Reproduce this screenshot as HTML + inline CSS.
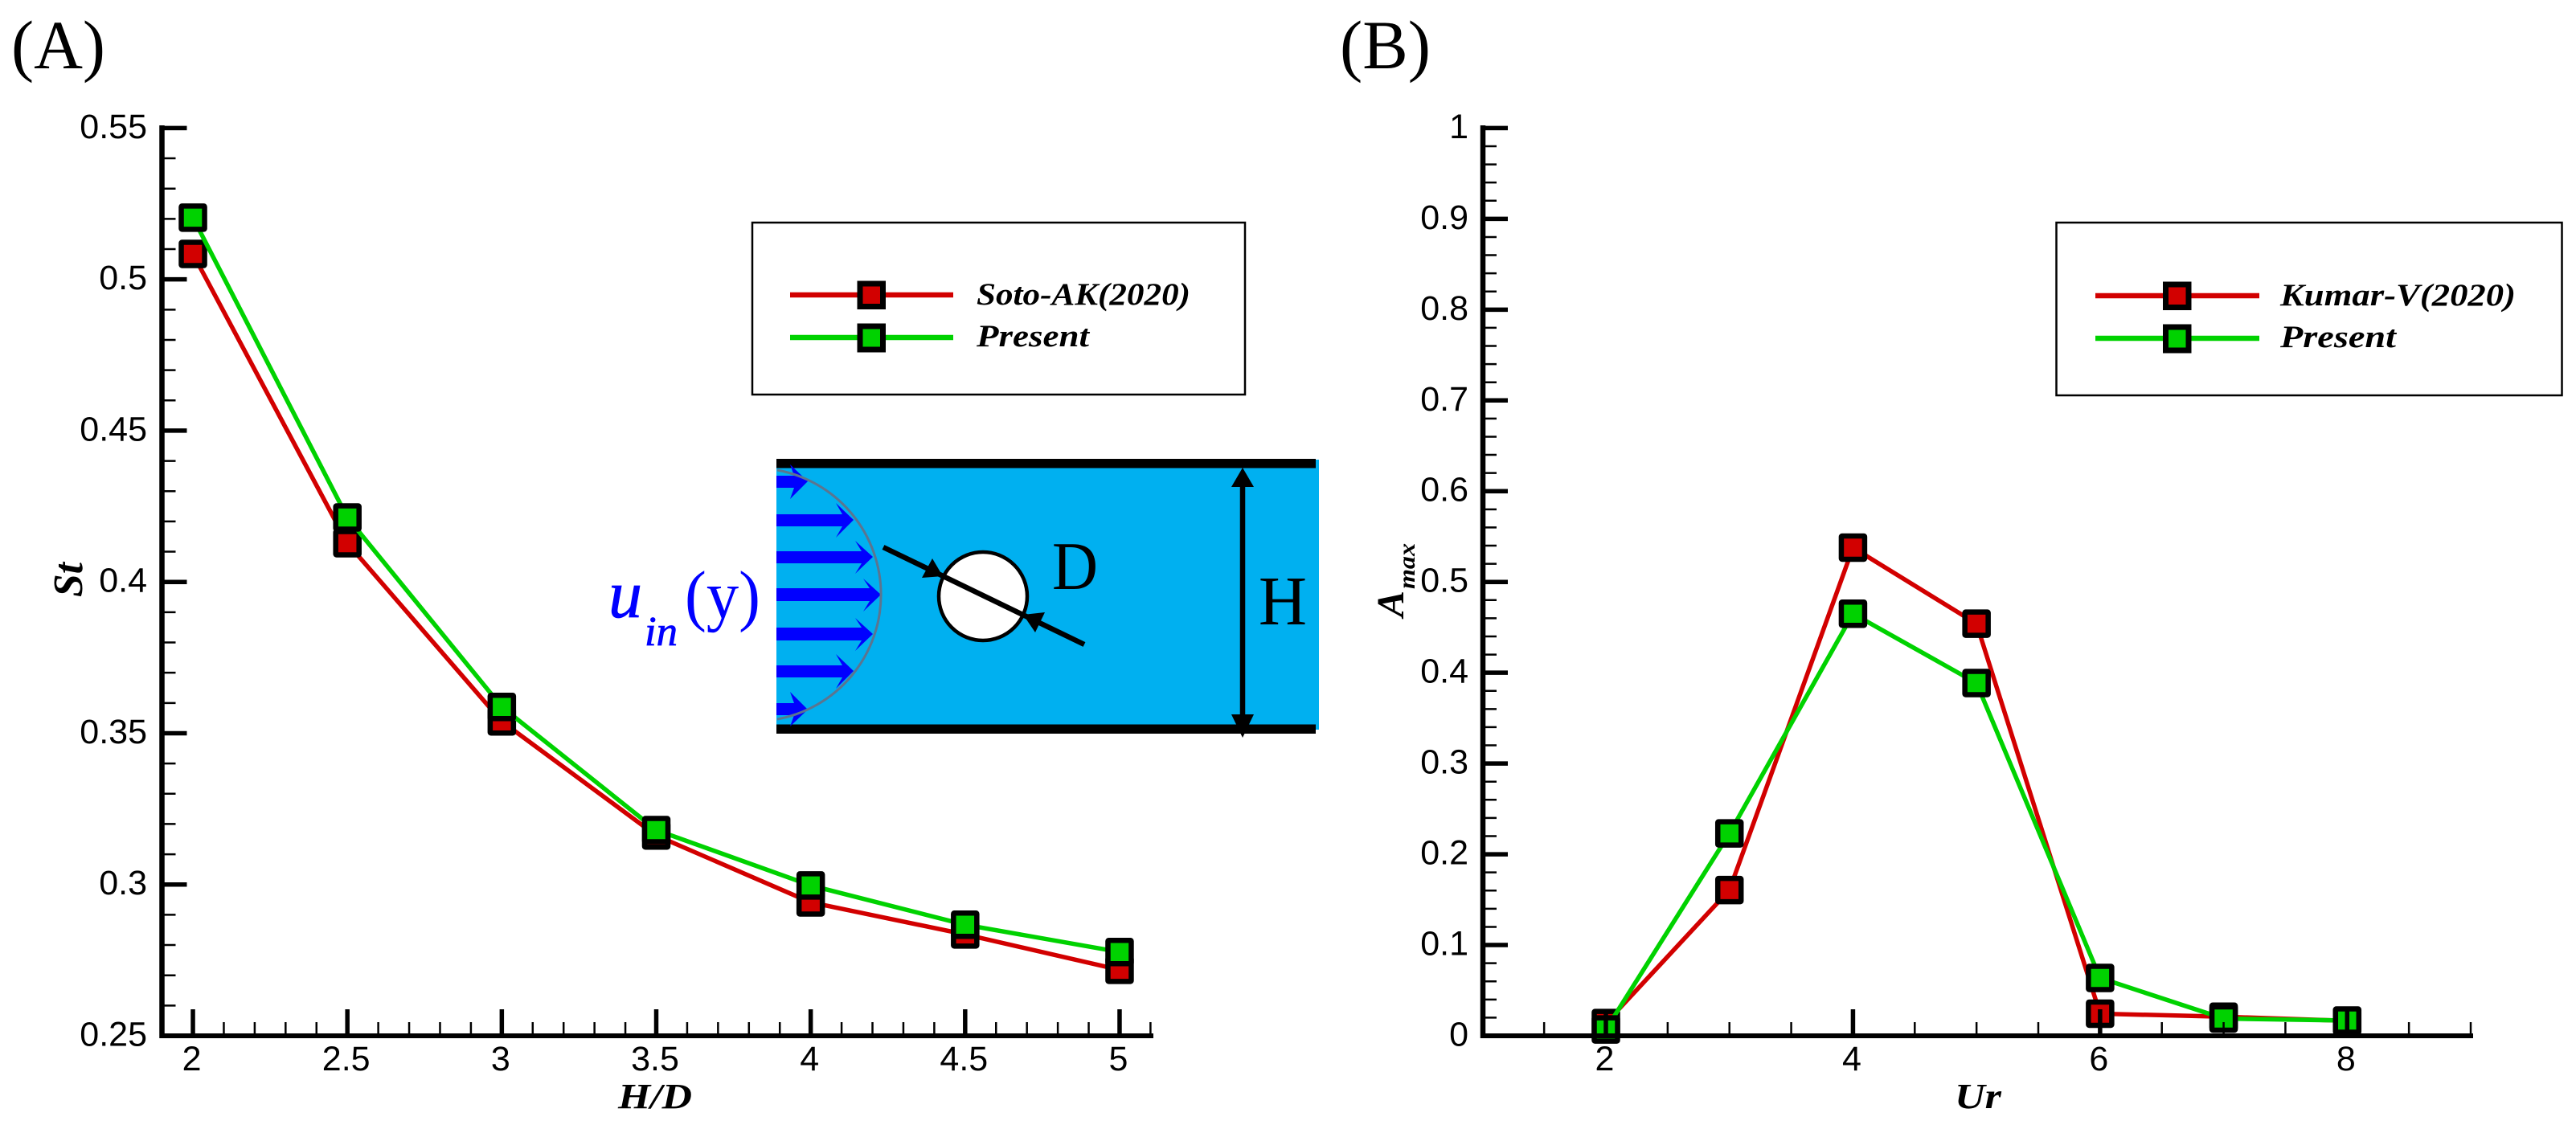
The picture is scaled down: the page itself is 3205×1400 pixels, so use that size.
<!DOCTYPE html>
<html lang="en">
<head>
<meta charset="utf-8">
<title>St vs H/D and Amax vs Ur</title>
<style>
html,body{margin:0;padding:0;background:#fff;}
svg{display:block;}
text{fill:#000;}
.sans{font-family:"Liberation Sans",Arial,sans-serif;}
.serif{font-family:"Liberation Serif","Times New Roman",serif;}
.bi{font-family:"Liberation Serif","Times New Roman",serif;font-weight:bold;font-style:italic;}
</style>
</head>
<body>
<svg id="figure" xmlns="http://www.w3.org/2000/svg" width="3205" height="1400" viewBox="0 0 3205 1400">
  <rect x="0" y="0" width="3205" height="1400" fill="#fff"/>
  <text class="serif" x="14" y="85" font-size="86" textLength="117" lengthAdjust="spacingAndGlyphs">(A)</text>
  <text class="serif" x="1667" y="85" font-size="86" textLength="113" lengthAdjust="spacingAndGlyphs">(B)</text>

  <g id="plot-a"></g>
  <g id="plot-b"></g>

  <text class="bi" x="769" y="1379" font-size="44" textLength="92" lengthAdjust="spacingAndGlyphs">H/D</text>
  <text class="bi" transform="translate(102,743) rotate(-90)" font-size="52" textLength="43" lengthAdjust="spacingAndGlyphs">St</text>
  <text class="bi" x="2432" y="1379" font-size="44" textLength="58" lengthAdjust="spacingAndGlyphs">Ur</text>
  <g>
    <text class="bi" transform="translate(1746,768) rotate(-90)" font-size="48" textLength="33" lengthAdjust="spacingAndGlyphs">A</text>
    <text class="bi" transform="translate(1760,733) rotate(-90)" font-size="30" textLength="57" lengthAdjust="spacingAndGlyphs">max</text>
  </g>

  <g>
    <rect x="936" y="277" width="613" height="214" fill="#fff" stroke="#000" stroke-width="2.5"/>
    <g>
      <line x1="983" y1="367" x2="1186" y2="367" stroke="#d20000" stroke-width="6.5"/>
      <rect x="1070" y="353" width="28.5" height="28.5" fill="#d20000" stroke="#000" stroke-width="7"/>
      <text class="bi" x="1215" y="379" font-size="39" textLength="266" lengthAdjust="spacingAndGlyphs">Soto-AK(2020)</text>
    </g>
    <g>
      <line x1="983" y1="420" x2="1186" y2="420" stroke="#00d200" stroke-width="6.5"/>
      <rect x="1070" y="406" width="28.5" height="29" fill="#00d200" stroke="#000" stroke-width="7"/>
      <text class="bi" x="1215" y="431" font-size="39" textLength="140" lengthAdjust="spacingAndGlyphs">Present</text>
    </g>
  </g>

  <g>
    <rect x="2558.5" y="277" width="629" height="215" fill="#fff" stroke="#000" stroke-width="2.5"/>
    <g>
      <line x1="2607" y1="368" x2="2811" y2="368" stroke="#d20000" stroke-width="6.5"/>
      <rect x="2694.5" y="354" width="28.5" height="28.5" fill="#d20000" stroke="#000" stroke-width="7"/>
      <text class="bi" x="2837" y="380" font-size="39" textLength="293" lengthAdjust="spacingAndGlyphs">Kumar-V(2020)</text>
    </g>
    <g>
      <line x1="2607" y1="421" x2="2811" y2="421" stroke="#00d200" stroke-width="6.5"/>
      <rect x="2694.5" y="407" width="28.5" height="29" fill="#00d200" stroke="#000" stroke-width="7"/>
      <text class="bi" x="2837" y="432" font-size="39" textLength="144" lengthAdjust="spacingAndGlyphs">Present</text>
    </g>
  </g>

  <g>
    <rect x="966" y="572" width="675" height="336" fill="#00b0f0"/>
    <rect x="966" y="571" width="671" height="11.5" fill="#000"/>
    <rect x="966" y="901.5" width="671" height="11.5" fill="#000"/>
    <g fill="#0000ff">
      <polygon points="966,592 988,592 983,578 1005,599 983,621 988,607 966,607"/>
      <polygon points="966,640 1048,640 1040,626 1062,647 1040,669 1048,655 966,655"/>
      <polygon points="966,686 1072,686 1064,673 1086,693 1064,714 1072,701 966,701"/>
      <polygon points="966,732 1082,732 1074,720 1096,740 1074,761 1082,748 966,748"/>
      <polygon points="966,781 1072,781 1064,769 1086,789 1064,810 1072,797 966,797"/>
      <polygon points="966,828 1048,828 1040,814 1062,835 1040,857 1048,843 966,843"/>
      <polygon points="966,875 988,875 983,861 1005,883 983,904 988,890 966,890"/>
    </g>
    <path d="M967,585 A157.6,157.6 0 0 1 967,895" fill="none" stroke="#5b7590" stroke-width="3"/>
    <circle cx="1223" cy="742" r="55" fill="#fff" stroke="#000" stroke-width="4.5"/>
    <line x1="1099" y1="681" x2="1349" y2="802" stroke="#000" stroke-width="6.5"/>
    <polygon points="1173,717 1160,695 1147,719" fill="#000"/>
    <polygon points="1273,765 1300,762 1288,787" fill="#000"/>
    <line x1="1546" y1="590" x2="1546" y2="905" stroke="#000" stroke-width="6.5"/>
    <polygon points="1546,582 1532,606 1560,606" fill="#000"/>
    <polygon points="1546,918 1532,889 1560,889" fill="#000"/>
    <text class="serif" x="1309" y="733" font-size="85" textLength="57" lengthAdjust="spacingAndGlyphs">D</text>
    <text class="serif" x="1566" y="777" font-size="87" textLength="60" lengthAdjust="spacingAndGlyphs">H</text>
  </g>
  <g>
    <text class="serif" x="757" y="768" font-size="85" font-style="italic" style="fill:#0000ff;stroke:#0000ff;stroke-width:.8" textLength="42" lengthAdjust="spacingAndGlyphs">u</text>
    <text class="serif" x="802" y="803" font-size="52" font-style="italic" style="fill:#0000ff;stroke:#0000ff;stroke-width:.8" textLength="41" lengthAdjust="spacingAndGlyphs">in</text>
    <text class="serif" x="852" y="769" font-size="85" style="fill:#0000ff" textLength="94" lengthAdjust="spacingAndGlyphs">(y)</text>
  </g>
</svg>
<script>
/* Panel A data */
const categoriesA = [2, 2.5, 3, 3.5, 4, 4.5, 5];
const sotoAK = [0.5084, 0.4128, 0.3539, 0.3162, 0.2941, 0.2835, 0.2718];
const presentA = [0.5204, 0.4213, 0.3587, 0.318, 0.2997, 0.2867, 0.2777];
const xTickLabelsA = ['2', '2.5', '3', '3.5', '4', '4.5', '5'];
const yTickLabelsA = ['0.25', '0.3', '0.35', '0.4', '0.45', '0.5', '0.55'];

/* Panel B data */
const categoriesB = [2, 3, 4, 5, 6, 7, 8];
const kumarV = [0.014, 0.1606, 0.5378, 0.454, 0.0244, 0.021, 0.0165];
const presentB = [0.007, 0.223, 0.465, 0.3886, 0.0637, 0.019, 0.0168];
const xTickLabelsB = ['2', '4', '6', '8'];
const yTickLabelsB = ['0', '0.1', '0.2', '0.3', '0.4', '0.5', '0.6', '0.7', '0.8', '0.9', '1'];

const NS = 'http://www.w3.org/2000/svg';
const RED = '#d20000';
const GREEN = '#00d200';

function make(parent, tag) {
  const el = document.createElementNS(NS, tag);
  parent.appendChild(el);
  return el;
}

function linearScale(d0, d1, r0, r1) {
  return function (v) { return r0 + (v - d0) * (r1 - r0) / (d1 - d0); };
}

function drawSeries(root, xs, ys, sx, sy, color, seriesName) {
  const line = make(root, 'polyline');
  
  
  line.setAttribute('points', xs.map(function (x, i) { return sx(x) + ',' + sy(ys[i]); }).join(' '));
  line.setAttribute('fill', 'none');
  line.setAttribute('stroke', color);
  line.setAttribute('stroke-width', '5.5');
  xs.forEach(function (x, i) {
    const m = make(root, 'rect');
    
    
    m.setAttribute('x', sx(x) - 14.5);
    m.setAttribute('y', sy(ys[i]) - 14.5);
    m.setAttribute('width', '29');
    m.setAttribute('height', '29');
    m.setAttribute('rx', '1');
    m.setAttribute('fill', color);
    m.setAttribute('stroke', '#000');
    m.setAttribute('stroke-width', '6.5');
  });
}

function drawAxes(root, cfg) {
  const sx = cfg.sx, sy = cfg.sy;
  const axisX = cfg.axisX, axisY = 1289;

  const yLine = make(root, 'line');
  
  
  yLine.setAttribute('x1', axisX);
  yLine.setAttribute('x2', axisX);
  yLine.setAttribute('y1', 156);
  yLine.setAttribute('y2', 1292);
  yLine.setAttribute('stroke', '#000');
  yLine.setAttribute('stroke-width', '6.5');

  const xLine = make(root, 'line');
  
  
  xLine.setAttribute('x1', axisX - 3);
  xLine.setAttribute('x2', cfg.axisEnd);
  xLine.setAttribute('y1', axisY);
  xLine.setAttribute('y2', axisY);
  xLine.setAttribute('stroke', '#000');
  xLine.setAttribute('stroke-width', '6');

  /* y ticks */
  cfg.yLabels.forEach(function (lab, i) {
    const v = parseFloat(lab);
    const t = make(root, 'line');
    
    
    t.setAttribute('x1', axisX);
    t.setAttribute('x2', axisX + 31);
    t.setAttribute('y1', sy(v));
    t.setAttribute('y2', sy(v));
    t.setAttribute('stroke', '#000');
    t.setAttribute('stroke-width', '5.5');

    const tx = make(root, 'text');
    
    
    tx.setAttribute('class', 'sans');
    tx.setAttribute('x', cfg.yLabelRight);
    tx.setAttribute('y', sy(v) + 12.5);
    tx.setAttribute('font-size', '43');
    tx.setAttribute('text-anchor', 'end');
    tx.textContent = lab;

    if (i < cfg.yLabels.length - 1) {
      const next = parseFloat(cfg.yLabels[i + 1]);
      for (let k = 1; k < 5; k++) {
        const mv = v + (next - v) * k / 5;
        const mt = make(root, 'line');
        
        
        mt.setAttribute('x1', axisX);
        mt.setAttribute('x2', axisX + 17);
        mt.setAttribute('y1', sy(mv));
        mt.setAttribute('y2', sy(mv));
        mt.setAttribute('stroke', '#000');
        mt.setAttribute('stroke-width', '2.5');
      }
    }
  });

  /* x minor ticks */
  for (let v = cfg.minorStart; v <= cfg.xMax + 1e-6; v += cfg.minorStep) {
    const mt = make(root, 'line');
    
    
    mt.setAttribute('x1', sx(v));
    mt.setAttribute('x2', sx(v));
    mt.setAttribute('y1', axisY);
    mt.setAttribute('y2', 1272);
    mt.setAttribute('stroke', '#000');
    mt.setAttribute('stroke-width', '2.5');
  }

  /* x major ticks */
  cfg.xLabels.forEach(function (lab) {
    const v = parseFloat(lab);
    const t = make(root, 'line');
    
    
    t.setAttribute('x1', sx(v));
    t.setAttribute('x2', sx(v));
    t.setAttribute('y1', axisY);
    t.setAttribute('y2', 1256);
    t.setAttribute('stroke', '#000');
    t.setAttribute('stroke-width', '5.5');

    const tx = make(root, 'text');
    
    
    tx.setAttribute('class', 'sans');
    tx.setAttribute('x', sx(v) - 1.5);
    tx.setAttribute('y', 1332);
    tx.setAttribute('font-size', '43');
    tx.setAttribute('text-anchor', 'middle');
    tx.textContent = lab;
  });
}

/* Panel A */
const sxA = linearScale(1.9, 5.1, 201.6, 1431.4);
const syA = linearScale(0.25, 0.55, 1289, 159.4);
const rootA = document.getElementById('plot-a');
drawSeries(rootA, categoriesA, sotoAK, sxA, syA, RED, 'soto-ak');
drawSeries(rootA, categoriesA, presentA, sxA, syA, GREEN, 'present-a');
drawAxes(rootA, {
  id: 'plot-a', sx: sxA, sy: syA, axisX: 201.5, axisEnd: 1435,
  yLabels: yTickLabelsA, xLabels: xTickLabelsA, yLabelRight: 183,
  minorStart: 2, minorStep: 0.1, xMax: 5.1
});

/* Panel B */
const sxB = linearScale(1, 9, 1844.3, 3074);
const syB = linearScale(0, 1, 1289, 159.4);
const rootB = document.getElementById('plot-b');
drawSeries(rootB, categoriesB, kumarV, sxB, syB, RED, 'kumar-v');
drawSeries(rootB, categoriesB, presentB, sxB, syB, GREEN, 'present-b');
drawAxes(rootB, {
  id: 'plot-b', sx: sxB, sy: syB, axisX: 1845, axisEnd: 3077,
  yLabels: yTickLabelsB, xLabels: xTickLabelsB, yLabelRight: 1827,
  minorStart: 1.5, minorStep: 0.5, xMax: 9
});
</script>
</body>
</html>
